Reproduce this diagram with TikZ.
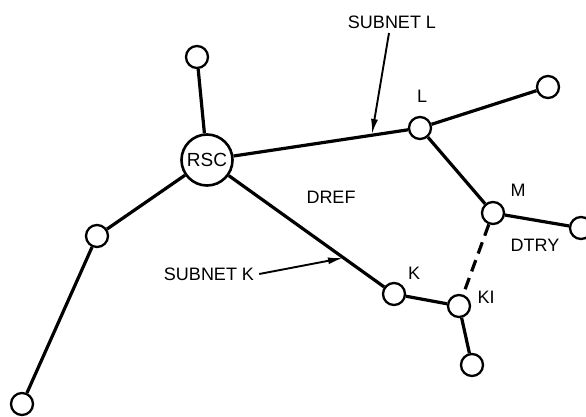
\documentclass[tikz,border=0pt]{standalone}
\usepackage{fontspec}
\setmainfont{Liberation Sans}
\usetikzlibrary{arrows.meta}
\begin{document}
\begin{tikzpicture}[x=1pt,y=-1pt,
  hub/.style={circle,draw,line width=2.6pt,minimum size=51pt,inner sep=0pt,font=\fontsize{19}{19}\selectfont},
  site/.style={circle,draw,line width=2.3pt,minimum size=22pt,inner sep=0pt},
  link/.style={line width=3.2pt},
  lbl/.style={font=\fontsize{18}{18}\selectfont,inner sep=0pt},
  pointer/.style={line width=1.9pt,-{Latex[length=15pt,width=7pt]}}]
\useasboundingbox (0,0) rectangle (586,417);
% nodes
\node[hub]  (rsc) at (207,160) {RSC};
\node[site] (top) at (197,57) {};
\node[site] (l)   at (420,128) {};
\node[site] (ur)  at (548,87) {};
\node[site] (m)   at (493,213) {};
\node[site] (r)   at (581,228) {};
\node[site] (k)   at (394,294) {};
\node[site] (ki)  at (459,306) {};
\node[site] (bt)  at (472,365) {};
\node[site] (lf)  at (97,236) {};
\node[site] (bl)  at (22,404) {};
% links
\draw[link] (rsc) -- (top);
\draw[link] (rsc) -- (l);
\draw[link] (l) -- (ur);
\draw[link] (l) -- (m);
\draw[link] (m) -- (r);
\draw[link,dash pattern=on 12pt off 7pt] (m) -- (ki);
\draw[link] (rsc) -- (k);
\draw[link] (k) -- (ki);
\draw[link] (ki) -- (bt);
\draw[link] (rsc) -- (lf);
\draw[link] (lf) -- (bl);
% labels
\node[lbl] (tl)  at (422,96) {L};
\node[lbl] (tm)  at (518,190) {M};
\node[lbl] (tk)  at (414,273) {K};
\node[lbl] (tki) at (486,297) {KI};
\node[lbl] (tdt) at (535,245) {DTRY};
\node[lbl] (tdr) at (331,197) {DREF};
\node[lbl] (snl) at (392,22) {SUBNET L};
\node[lbl] (snk) at (209,274) {SUBNET K};
% pointers onto subnet links
\coordinate (pl) at (372,134);
\coordinate (pk) at (343,258);
\draw[pointer] (389,33) -- (pl);
\draw[pointer] (snk.east) ++(5pt,0) -- (pk);
\end{tikzpicture}
\end{document}
